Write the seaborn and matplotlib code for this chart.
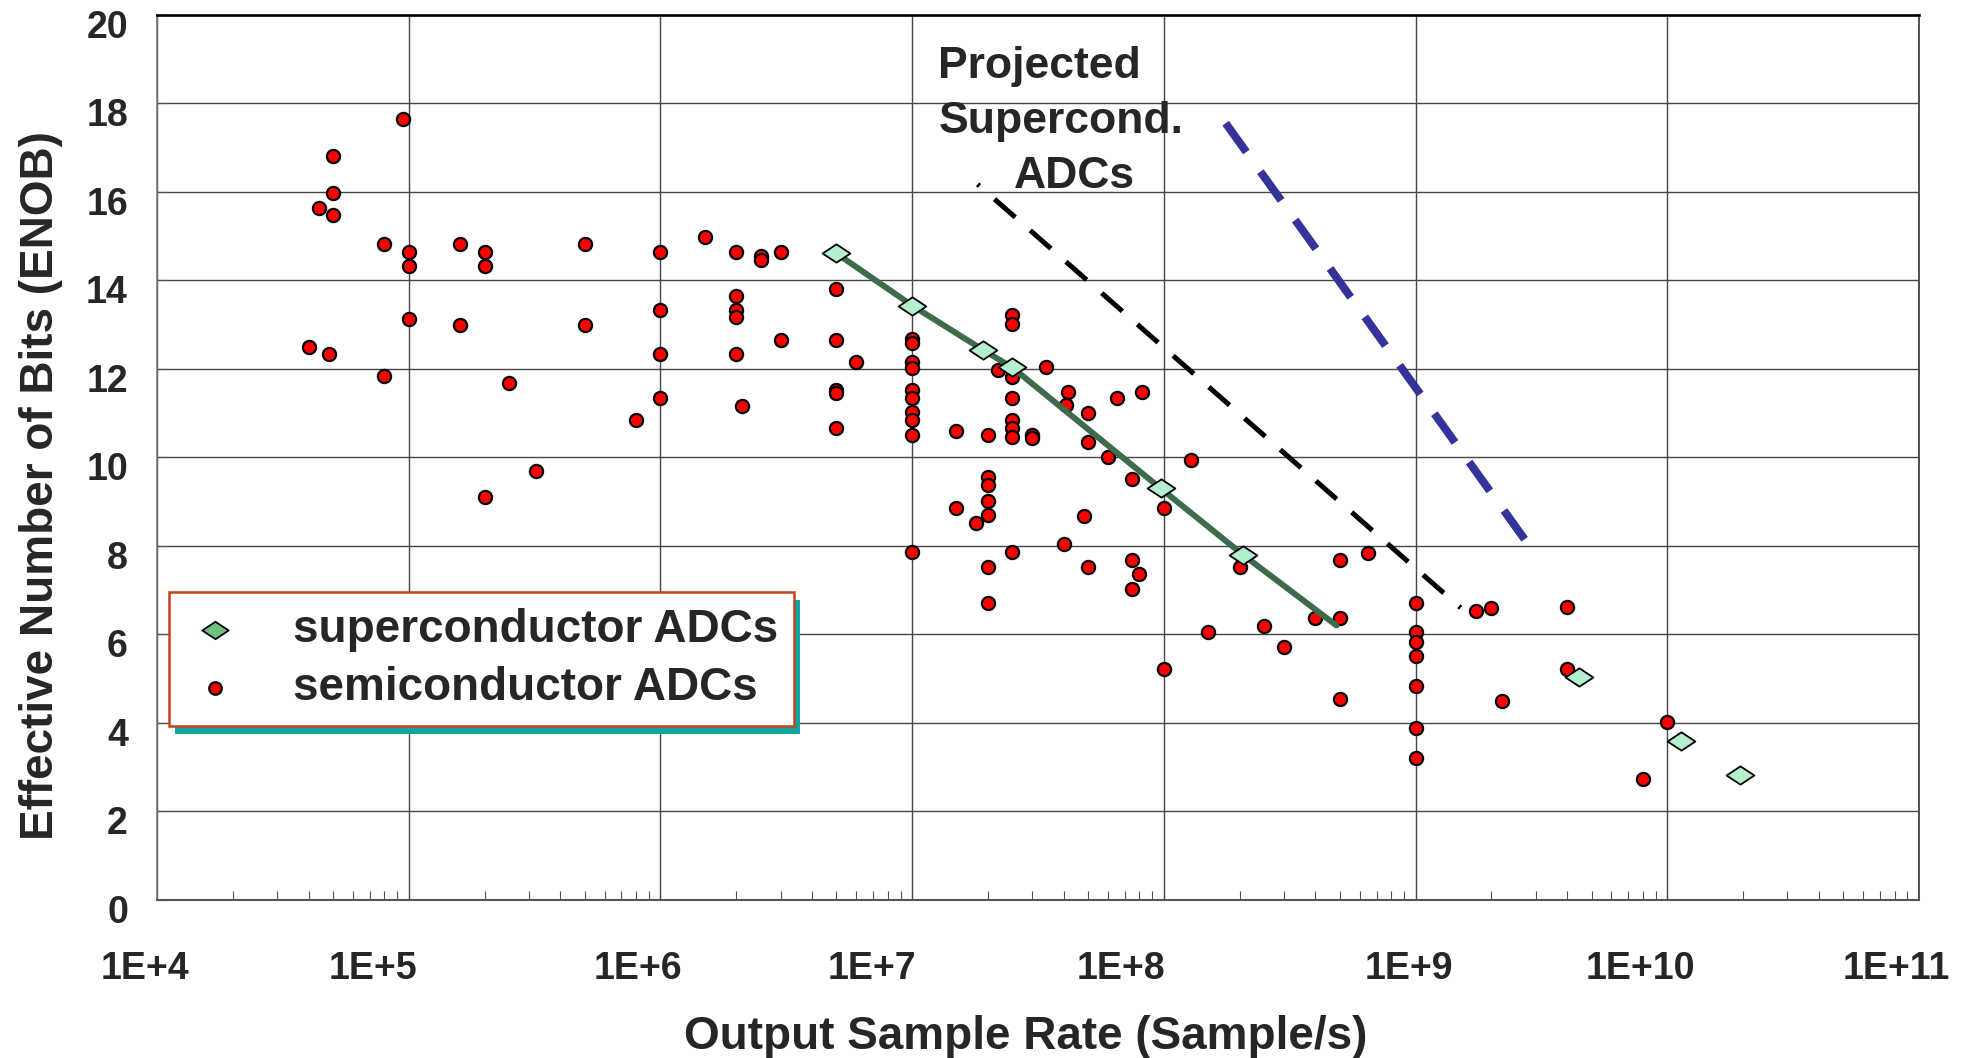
import numpy as np
import pandas as pd
import matplotlib
matplotlib.use("Agg")
import matplotlib.pyplot as plt
import seaborn as sns
from matplotlib.path import Path
from matplotlib.markers import MarkerStyle
from matplotlib.patches import Rectangle
from matplotlib.transforms import ScaledTranslation
from matplotlib.ticker import FixedLocator, LogLocator, NullFormatter

# ---------------- data ----------------
semi_rate = [4e4, 4.4e4, 4.8e4, 5e4, 5e4, 5e4,
             8e4, 8e4, 9.5e4,
             1e5, 1e5, 1e5,
             1.6e5, 1.6e5,
             2e5, 2e5, 2e5,
             2.5e5, 3.2e5,
             5e5, 5e5,
             8e5,
             1e6, 1e6, 1e6, 1e6,
             1.5e6,
             2e6, 2e6, 2e6, 2e6, 2e6,
             2.1e6,
             2.5e6, 2.5e6,
             3e6, 3e6,
             5e6, 5e6, 5e6, 5e6, 5e6,
             6e6,
             1e7, 1e7, 1e7, 1e7, 1e7, 1e7, 1e7, 1e7, 1e7, 1e7,
             1.5e7, 1.5e7,
             1.8e7,
             2e7, 2e7, 2e7, 2e7, 2e7, 2e7, 2e7,
             2.2e7,
             2.5e7, 2.5e7, 2.5e7, 2.5e7, 2.5e7, 2.5e7, 2.5e7, 2.5e7,
             3e7, 3e7,
             3.4e7,
             4e7,
             4.1e7, 4.15e7,
             4.8e7,
             5e7, 5e7, 5e7,
             6e7,
             6.5e7,
             7.5e7, 7.5e7, 7.5e7,
             8e7,
             8.15e7,
             1e8, 1e8,
             1.28e8,
             1.5e8,
             2e8,
             2.5e8,
             3e8,
             4e8,
             5e8, 5e8, 5e8,
             6.5e8,
             1e9, 1e9, 1e9, 1e9, 1e9, 1e9, 1e9,
             1.74e9, 2e9,
             2.2e9,
             4e9, 4e9,
             8e9,
             1e10]
semi_enob = [12.5, 15.63, 12.33, 16.81, 15.97, 15.47,
             14.82, 11.83, 17.64,
             14.65, 14.32, 13.13,
             14.82, 12.99,
             14.65, 14.32, 9.10,
             11.67, 9.68,
             14.82, 12.99,
             10.84,
             14.65, 13.33, 12.33, 11.33,
             14.97,
             14.65, 13.64, 13.33, 13.16, 12.33,
             11.17,
             14.55, 14.45,
             14.65, 12.65,
             13.80, 12.65, 11.52, 11.45, 10.66,
             12.15,
             12.67, 12.58, 12.16, 12.01, 11.52, 11.33, 11.02, 10.84, 10.50, 7.87,
             10.60, 8.85,
             8.52,
             10.50, 9.56, 9.37, 9.02, 8.70, 7.53, 6.71,
             11.97,
             13.22, 13.01, 11.82, 11.33, 10.84, 10.66, 10.47, 7.87,
             10.50, 10.43,
             12.03,
             8.03,
             11.18, 11.48,
             8.68,
             11.01, 10.34, 7.53,
             10.01,
             11.33,
             9.52, 7.68, 7.03,
             7.36,
             11.48,
             8.85, 5.21,
             9.94,
             6.05,
             7.53,
             6.19,
             5.71,
             6.36,
             7.68, 6.36, 4.53,
             7.83,
             6.70, 6.06, 5.82, 5.52, 4.83, 3.88, 3.21,
             6.53, 6.59,
             4.50,
             6.61, 5.22,
             2.74,
             4.01]

super_rate = [5e6, 1e7, 1.92e7, 2.5e7, 9.7e7, 2.07e8, 4.46e9, 1.135e10, 1.95e10]
super_enob = [14.61, 13.43, 12.42, 12.03, 9.30, 7.79, 5.04, 3.60, 2.82]

trend_rate = [5e6, 1e7, 1.92e7, 2.5e7, 9.7e7, 2.07e8, 4.85e8]
trend_enob = [14.61, 13.43, 12.42, 12.03, 9.30, 7.79, 6.2]

proj_black_rate = [1.82e7, 1.51e9]
proj_black_enob = [16.17, 6.6]
proj_blue_rate = [1.76e8, 2.83e9]
proj_blue_enob = [17.55, 8.0]

x_ticks = [1e4, 1e5, 1e6, 1e7, 1e8, 1e9, 1e10, 1e11]
x_tick_labels = ["1E+4", "1E+5", "1E+6", "1E+7", "1E+8", "1E+9", "1E+10", "1E+11"]
y_ticks = [0, 2, 4, 6, 8, 10, 12, 14, 16, 18, 20]

semi_df = pd.DataFrame({"rate": semi_rate, "enob": semi_enob})
super_df = pd.DataFrame({"rate": super_rate, "enob": super_enob})
trend_df = pd.DataFrame({"rate": trend_rate, "enob": trend_enob})
black_df = pd.DataFrame({"rate": proj_black_rate, "enob": proj_black_enob})
blue_df = pd.DataFrame({"rate": proj_blue_rate, "enob": proj_blue_enob})

# ---------------- style ----------------
sns.set_style("white")
plt.rcParams["font.family"] = ["Liberation Sans", "DejaVu Sans"]
plt.rcParams["font.weight"] = "bold"
plt.rcParams["axes.labelweight"] = "bold"

fig = plt.figure(figsize=(19.68, 10.58), dpi=100)
ax = fig.add_axes([0.0798, 0.1495, 0.8953, 0.8365])

diamond = MarkerStyle(Path([(-1, 0), (0, 0.66), (1, 0), (0, -0.66), (-1, 0)],
                           [Path.MOVETO, Path.LINETO, Path.LINETO, Path.LINETO, Path.CLOSEPOLY]))

sns.scatterplot(data=semi_df, x="rate", y="enob", ax=ax, marker="o", s=90,
                color="#ff0000", edgecolor="black", linewidth=1.6,
                label="semiconductor ADCs", zorder=3)
sns.lineplot(data=trend_df, x="rate", y="enob", ax=ax, sort=False, estimator=None,
             color="#3d6b4c", linewidth=4.3, zorder=4, legend=False)
sns.scatterplot(data=super_df, x="rate", y="enob", ax=ax, marker=diamond, s=400,
                color="#b4f0cf", edgecolor="black", linewidth=1.3,
                label="superconductor ADCs", zorder=5)
sns.lineplot(data=black_df, x="rate", y="enob", ax=ax, sort=False, estimator=None,
             color="black", linewidth=3.6, linestyle=(5.0, (5.5, 4.0)), zorder=4,
             legend=False)
sns.lineplot(data=blue_df, x="rate", y="enob", ax=ax, sort=False, estimator=None,
             color="#333399", linewidth=5.8, linestyle=(0, (4.4, 3.0)), zorder=4,
             legend=False)

ax.set_xscale("log")
ax.set_xlim(1e4, 1e11)
ax.set_ylim(0, 20)
ax.xaxis.set_major_locator(FixedLocator(x_ticks))
ax.set_xticklabels(x_tick_labels)
ax.xaxis.set_minor_locator(LogLocator(base=10, subs=np.arange(2, 10)))
ax.xaxis.set_minor_formatter(NullFormatter())
ax.set_yticks(y_ticks)
ax.set_yticklabels([str(v) for v in y_ticks])

ax.grid(True, which="major", color="#454545", linewidth=1.0)
ax.set_axisbelow(True)

ax.tick_params(axis="x", which="major", bottom=True, length=0, pad=37,
               labelsize=27)
ax.tick_params(axis="x", which="minor", bottom=True, direction="in",
               length=6.5, width=0.8, color="#555555")
ax.tick_params(axis="y", which="major", left=True, direction="in",
               length=7, width=0.8, color="#555555", pad=21, labelsize=27)

for lbl in ax.get_xticklabels():
    lbl.set_fontweight("bold")
for lbl in ax.get_yticklabels():
    lbl.set_fontweight("bold")
    lbl.set_transform(lbl.get_transform() + ScaledTranslation(0, -0.09, fig.dpi_scale_trans))

x_label_shift = [-12, -36, -23, -40, -43, -7, -27, -23]
for lbl, dx in zip(ax.get_xticklabels(), x_label_shift):
    lbl.set_transform(lbl.get_transform() + ScaledTranslation(dx / 100, 0, fig.dpi_scale_trans))

ax.spines["top"].set_color("black")
ax.spines["top"].set_linewidth(1.9)
ax.spines["right"].set_color("#333333")
ax.spines["right"].set_linewidth(1.2)
ax.spines["left"].set_color("#777777")
ax.spines["left"].set_linewidth(1.2)
ax.spines["bottom"].set_color("#555555")
ax.spines["bottom"].set_linewidth(1.5)

ax.set_xlabel("Output Sample Rate (Sample/s)", fontsize=33, fontweight="bold", va="center")
ax.set_ylabel("Effective Number of Bits (ENOB)", fontsize=33, fontweight="bold", va="center")
ax.xaxis.set_label_coords(0.4928, -0.1547)
ax.yaxis.set_label_coords(-0.066, 0.468)

txt_kw = dict(transform=ax.transAxes, fontsize=32, fontweight="bold", ha="left",
              va="baseline", zorder=6)
ax.text(0.4435, 0.9283, "Projected", **txt_kw)
ax.text(0.4435, 0.8661, "Supercond.", **txt_kw)
ax.text(0.4861, 0.8040, "ADCs", **txt_kw)

handles, labels = ax.get_legend_handles_labels()
order = [labels.index("superconductor ADCs"), labels.index("semiconductor ADCs")]
leg = ax.legend([handles[i] for i in order], [labels[i] for i in order],
                loc="upper left", bbox_to_anchor=(0.0068, 0.3478), borderaxespad=0,
                fontsize=33, frameon=True, fancybox=False, framealpha=1,
                edgecolor="#c0441a", borderpad=0.35, labelspacing=0.3,
                handlelength=1.3, handletextpad=1.05, markerscale=0.95)
leg.get_frame().set_linewidth(1.8)
leg.set_zorder(10)
for t in leg.get_texts():
    t.set_fontweight("bold")
leg.legend_handles[0].set_facecolor("#70c080")

fig.canvas.draw()
bb = leg.get_frame().get_window_extent(fig.canvas.get_renderer())
inv = ax.transAxes.inverted()
(x0, y0) = inv.transform((bb.x0 + 6, bb.y0 - 8))
(x1, y1) = inv.transform((bb.x1 + 6, bb.y1 - 8))
ax.add_patch(Rectangle((x0, y0), x1 - x0, y1 - y0, transform=ax.transAxes,
                       facecolor="#12a3a3", edgecolor="none", clip_on=False, zorder=9))

fig.savefig("out.png", dpi=100, facecolor="white")
